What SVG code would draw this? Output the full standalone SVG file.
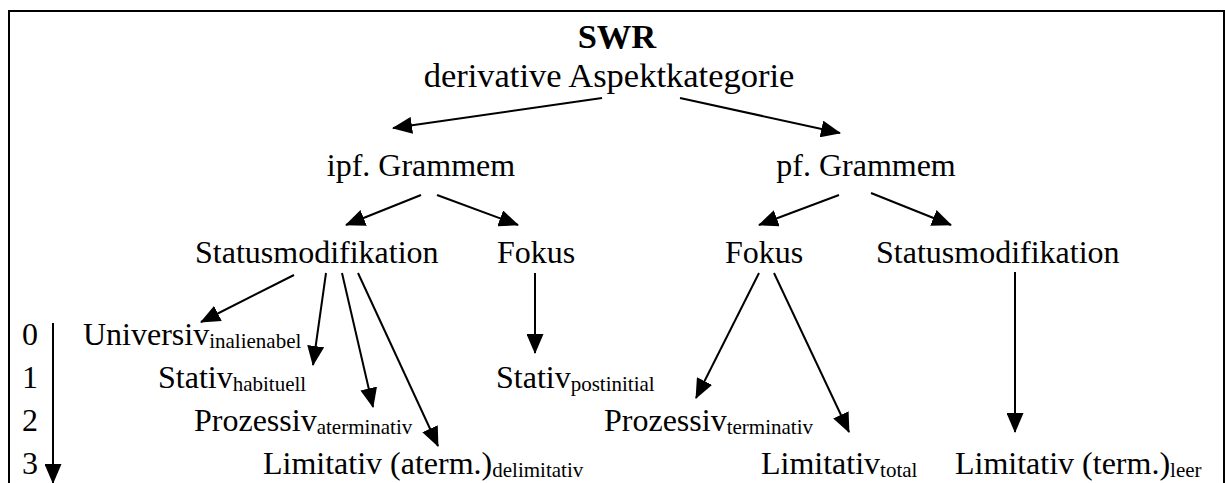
<svg xmlns="http://www.w3.org/2000/svg" width="1225" height="483" viewBox="0 0 1225 483">
<style>
text{font-family:"Liberation Serif","Times New Roman",serif;font-size:32px;fill:#000}
.h{font-size:34.5px}
.b{font-weight:bold}
.s{font-size:21px}
.c{text-anchor:middle}
.e line{stroke:#000;stroke-width:2;fill:none;marker-end:url(#ah)}
</style>
<defs>
<marker id="ah" viewBox="0 0 20 17" refX="19" refY="8.5" markerWidth="20" markerHeight="17" orient="auto" markerUnits="userSpaceOnUse"><path d="M0,0 L20,8.5 L0,17 z" fill="#000"/></marker>
</defs>
<rect x="9" y="11" width="1215" height="500" fill="#fff" stroke="#000" stroke-width="2"/>
<g id="swr"><text class="h b c" x="617" y="48">SWR</text></g>
<g id="derivative"><text class="h c" x="609" y="87">derivative Aspektkategorie</text></g>
<g id="ipf"><text class="c" x="421" y="176">ipf. Grammem</text></g>
<g id="pf"><text class="c" x="866" y="176">pf. Grammem</text></g>
<g id="status-ipf"><text x="195" y="263">Statusmodifikation</text></g>
<g id="fokus-ipf"><text x="497" y="263">Fokus</text></g>
<g id="fokus-pf"><text x="725" y="263">Fokus</text></g>
<g id="status-pf"><text x="876" y="263">Statusmodifikation</text></g>
<g id="levels"><text x="22" y="345">0</text><text x="22" y="388">1</text><text x="22" y="431">2</text><text x="22" y="474">3</text></g>
<g id="universiv"><text x="83" y="345">Universiv<tspan class="s" dy="3">inalienabel</tspan></text></g>
<g id="stativ-hab"><text x="158" y="388">Stativ<tspan class="s" dy="3">habituell</tspan></text></g>
<g id="prozessiv-ater"><text x="194" y="431">Prozessiv<tspan class="s" dy="3">aterminativ</tspan></text></g>
<g id="limitativ-delim"><text x="263" y="474">Limitativ (aterm.)<tspan class="s" dy="3">delimitativ</tspan></text></g>
<g id="stativ-post"><text x="496" y="388">Stativ<tspan class="s" dy="3">postinitial</tspan></text></g>
<g id="prozessiv-term"><text x="604" y="431">Prozessiv<tspan class="s" dy="3">terminativ</tspan></text></g>
<g id="limitativ-total"><text x="761" y="474">Limitativ<tspan class="s" dy="3">total</tspan></text></g>
<g id="limitativ-leer"><text x="955" y="474">Limitativ (term.)<tspan class="s" dy="3">leer</tspan></text></g>
<g id="connectors" class="e">
<line x1="602" y1="98" x2="393" y2="128"/>
<line x1="680" y1="98" x2="840" y2="133"/>
<line x1="421" y1="195" x2="346" y2="225"/>
<line x1="437" y1="195" x2="518" y2="225"/>
<line x1="839" y1="195" x2="759" y2="225"/>
<line x1="871" y1="193" x2="951" y2="225"/>
<line x1="294" y1="275" x2="201" y2="322"/>
<line x1="326" y1="273" x2="313" y2="365"/>
<line x1="342" y1="273" x2="373" y2="407"/>
<line x1="358" y1="273" x2="438" y2="446"/>
<line x1="535" y1="273" x2="535" y2="353"/>
<line x1="759" y1="273" x2="696" y2="398"/>
<line x1="774" y1="273" x2="849" y2="432"/>
<line x1="1015" y1="272" x2="1015" y2="432"/>
<line x1="53" y1="323" x2="53" y2="483"/>
</g>
</svg>
